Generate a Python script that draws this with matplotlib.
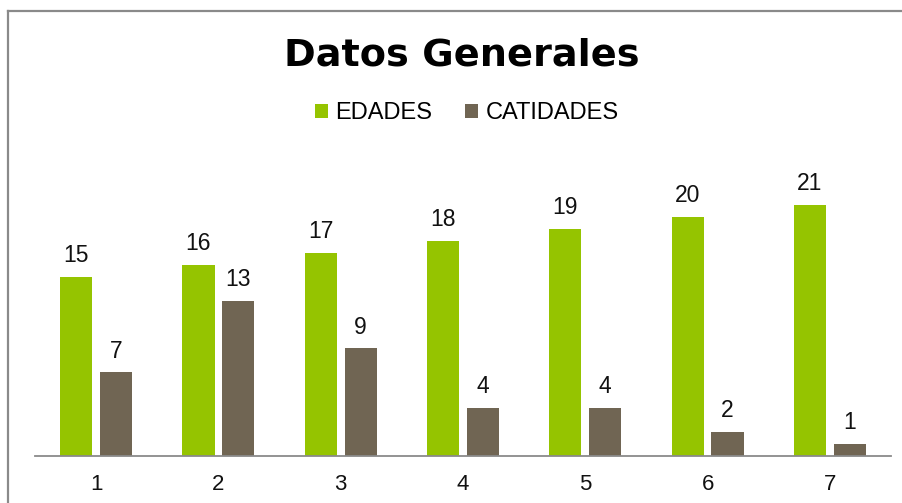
import matplotlib
matplotlib.use("Agg")
import matplotlib.pyplot as plt
import numpy as np
from matplotlib.lines import Line2D

categories = ["1", "2", "3", "4", "5", "6", "7"]
edades = [15, 16, 17, 18, 19, 20, 21]
cantidades = [7, 13, 9, 4, 4, 2, 1]
series_names = ["EDADES", "CATIDADES"]
title = "Datos Generales"

green = "#95C400"
brown = "#706553"
gray = "#8A8A8A"

W, H = 902, 503
fig = plt.figure(figsize=(W / 100, H / 100), dpi=100)
fig.patch.set_facecolor("white")

# axes placement in pixels
left, right, base, top = 35, 891, 456, 157
ax = fig.add_axes([left / W, (H - base) / H, (right - left) / W, (base - top) / H])

x = np.arange(len(categories))
bw = 0.262
off = 0.163
b1 = ax.bar(x - off, edades, bw, color=green, label=series_names[0])
b2 = ax.bar(x + off, cantidades, bw, color=brown, label=series_names[1])

ax.set_xlim(-0.5, len(categories) - 0.5)
ax.set_ylim(0, 25)
for s in ["top", "left", "right"]:
    ax.spines[s].set_visible(False)
ax.spines["bottom"].set_color(gray)
ax.spines["bottom"].set_linewidth(1.3)
ax.set_yticks([])
ax.set_xticks(x)
ax.set_xticklabels(categories, fontsize=16, family="Liberation Sans", color="#111111")
ax.tick_params(axis="x", length=0, pad=13)

for bars, vals in ((b1, edades), (b2, cantidades)):
    for r, v in zip(bars, vals):
        ax.annotate(str(v), (r.get_x() + r.get_width() / 2, v),
                    xytext=(0, 7), textcoords="offset points",
                    ha="center", va="bottom", fontsize=16.5,
                    family="Liberation Sans", color="#111111")

fig.text(462 / W, (H - 66) / H, title, ha="center", va="baseline",
         fontsize=27.5, fontweight="bold", family="DejaVu Sans", color="black")

fig.legend(handles=[b1, b2], labels=series_names, loc="center",
           bbox_to_anchor=(467 / W, (H - 113) / H), ncol=2, frameon=False,
           prop={"family": "Liberation Sans", "size": 17},
           handlelength=0.55, handleheight=0.55, handletextpad=0.3,
           columnspacing=1.4)

# chart border (top and left visible)
fig.add_artist(Line2D([8 / W, 1.05], [(H - 11) / H, (H - 11) / H],
                      transform=fig.transFigure, color=gray, lw=1.6))
fig.add_artist(Line2D([8 / W, 8 / W], [(H - 11) / H, -0.05],
                      transform=fig.transFigure, color=gray, lw=1.6))

fig.savefig("out.png", dpi=100)
